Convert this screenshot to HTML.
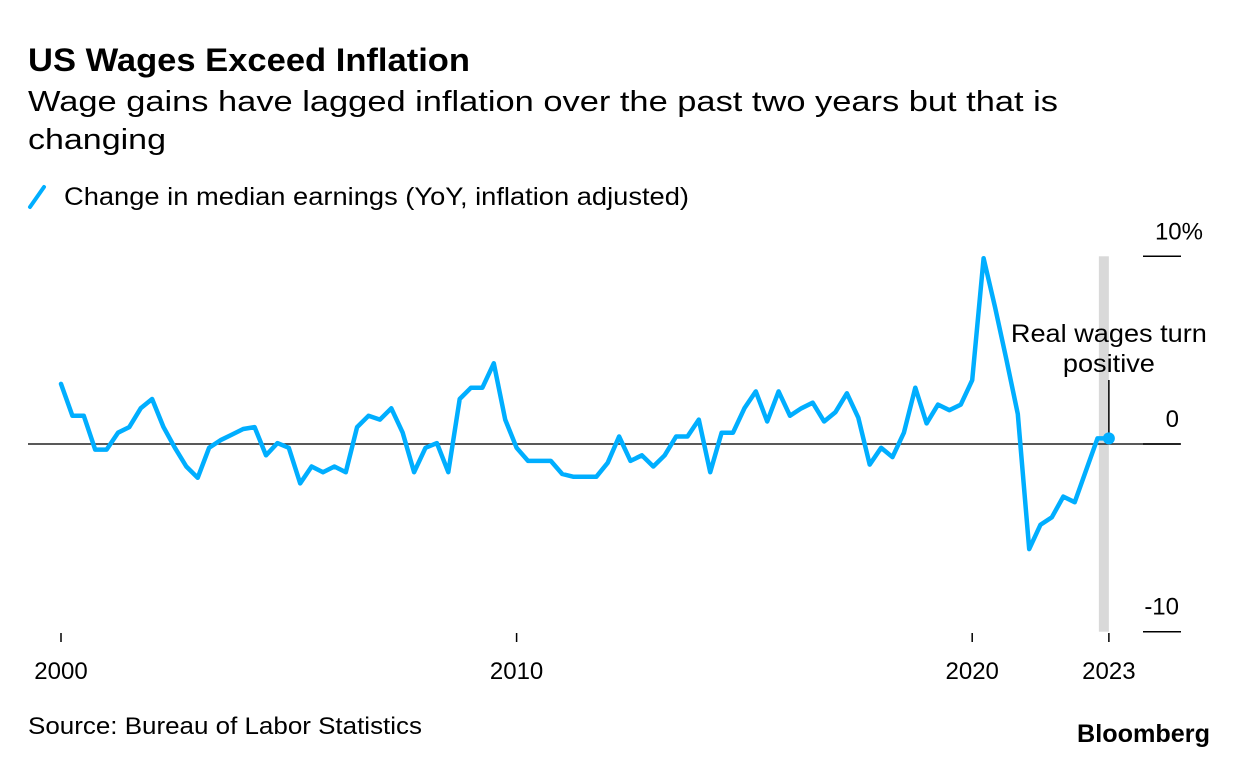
<!DOCTYPE html>
<html><head><meta charset="utf-8"><style>
html,body{margin:0;padding:0;background:#fff;}
svg{display:block;font-family:"Liberation Sans",Arial,sans-serif;}
</style></head><body>
<svg id="chart" width="1234" height="764" viewBox="0 0 1234 764" xmlns="http://www.w3.org/2000/svg">
<text x="28" y="71" font-size="32" font-weight="bold" fill="#000" textLength="442" lengthAdjust="spacingAndGlyphs">US Wages Exceed Inflation</text>
<text x="28" y="111" font-size="29" fill="#000" textLength="1030" lengthAdjust="spacingAndGlyphs">Wage gains have lagged inflation over the past two years but that is</text>
<text x="28" y="149" font-size="29" fill="#000" textLength="138" lengthAdjust="spacingAndGlyphs">changing</text>
<g>
<line x1="30" y1="207" x2="44" y2="187" stroke="#00aeff" stroke-width="4" stroke-linecap="round"/>
<text x="64" y="205" font-size="25" fill="#000" textLength="625" lengthAdjust="spacingAndGlyphs">Change in median earnings (YoY, inflation adjusted)</text>
</g>
<g id="plot"></g>
<text x="28" y="734" font-size="24" fill="#000" textLength="394" lengthAdjust="spacingAndGlyphs">Source: Bureau of Labor Statistics</text>
<text x="1210" y="742" font-size="25" font-weight="bold" fill="#000" text-anchor="end" textLength="133" lengthAdjust="spacingAndGlyphs">Bloomberg</text>
</svg>
<script>
const values = [3.2,1.5,1.5,-0.3,-0.3,0.6,0.9,1.9,2.4,0.9,-0.2,-1.2,-1.8,-0.2,0.2,0.5,0.8,0.9,-0.6,0.05,-0.2,-2.1,-1.2,-1.5,-1.2,-1.5,0.9,1.5,1.3,1.9,0.6,-1.5,-0.2,0.05,-1.5,2.4,3.0,3.0,4.3,1.3,-0.2,-0.9,-0.9,-0.9,-1.6,-1.75,-1.75,-1.75,-1.0,0.4,-0.9,-0.6,-1.2,-0.6,0.4,0.4,1.3,-1.5,0.6,0.6,1.9,2.8,1.2,2.8,1.5,1.9,2.2,1.2,1.7,2.7,1.4,-1.1,-0.2,-0.7,0.6,3.0,1.1,2.1,1.8,2.1,3.4,9.9,7.3,4.5,1.6,-5.6,-4.3,-3.9,-2.8,-3.1,-1.4,0.3,0.3];
const startYear = 2000;
const stepYears = 0.25;
const xTickYears = [2000, 2010, 2020, 2023];
const xTickLabels = ["2000", "2010", "2020", "2023"];
const yTicks = [10, 0, -10];
const yTickLabels = ["10%", "0", "-10"];
const highlightYear = 2023;

const NS = "http://www.w3.org/2000/svg";
const plot = document.getElementById('plot');
const x = yr => 61 + (yr - 2000) * 45.56;
const y = v => 444 - v * 18.77;
function mk(tag, attrs) { const e = document.createElementNS(NS, tag); for (const k in attrs) e.setAttribute(k, attrs[k]); plot.appendChild(e); return e; }

const band = mk('rect', {x: x(highlightYear) - 10, y: y(10), width: 10, height: y(-10) - y(10), fill: '#d9d9d9'});



const zl = mk('line', {x1: 28, x2: 1180, y1: y(0), y2: y(0), stroke: '#222', 'stroke-width': 1.5});



yTicks.forEach((t, i) => {
  const l = mk('line', {x1: 1143, x2: 1181, y1: y(t), y2: y(t), stroke: '#000', 'stroke-width': 1.5});
  
  
  const lbl = yTickLabels[i];
  const right = lbl.indexOf('%') >= 0 ? 1203 : 1179;
  const tx = mk('text', {x: right, y: y(t) - 17, 'font-size': 24, 'text-anchor': 'end', fill: '#000'});
  tx.textContent = lbl;
  
  
});

xTickYears.forEach((yr, i) => {
  const l = mk('line', {x1: x(yr), x2: x(yr), y1: 633, y2: 642, stroke: '#000', 'stroke-width': 1.5});
  
  
  const tx = mk('text', {x: x(yr), y: 679, 'font-size': 24, 'text-anchor': 'middle', fill: '#000'});
  tx.textContent = xTickLabels[i];
  
  
});

const pts = values.map((v, i) => x(startYear + i * stepYears).toFixed(1) + ',' + y(v).toFixed(1)).join(' ');
const line = mk('polyline', {points: pts, fill: 'none', stroke: '#00aeff', 'stroke-width': 4.5, 'stroke-linejoin': 'round', 'stroke-linecap': 'round'});



const last = values.length - 1;
const lx = x(startYear + last * stepYears), ly = y(values[last]);
const al = mk('line', {x1: lx, x2: lx, y1: 380, y2: ly, stroke: '#000', 'stroke-width': 1.5});


const dot = mk('circle', {cx: lx, cy: ly, r: 6, fill: '#00aeff'});


const a1 = mk('text', {x: lx, y: 342, 'font-size': 25, 'text-anchor': 'middle', fill: '#000', textLength: 196, lengthAdjust: 'spacingAndGlyphs'});
a1.textContent = 'Real wages turn';


const a2 = mk('text', {x: lx, y: 372, 'font-size': 25, 'text-anchor': 'middle', fill: '#000', textLength: 92, lengthAdjust: 'spacingAndGlyphs'});
a2.textContent = 'positive';


</script>
</body></html>
